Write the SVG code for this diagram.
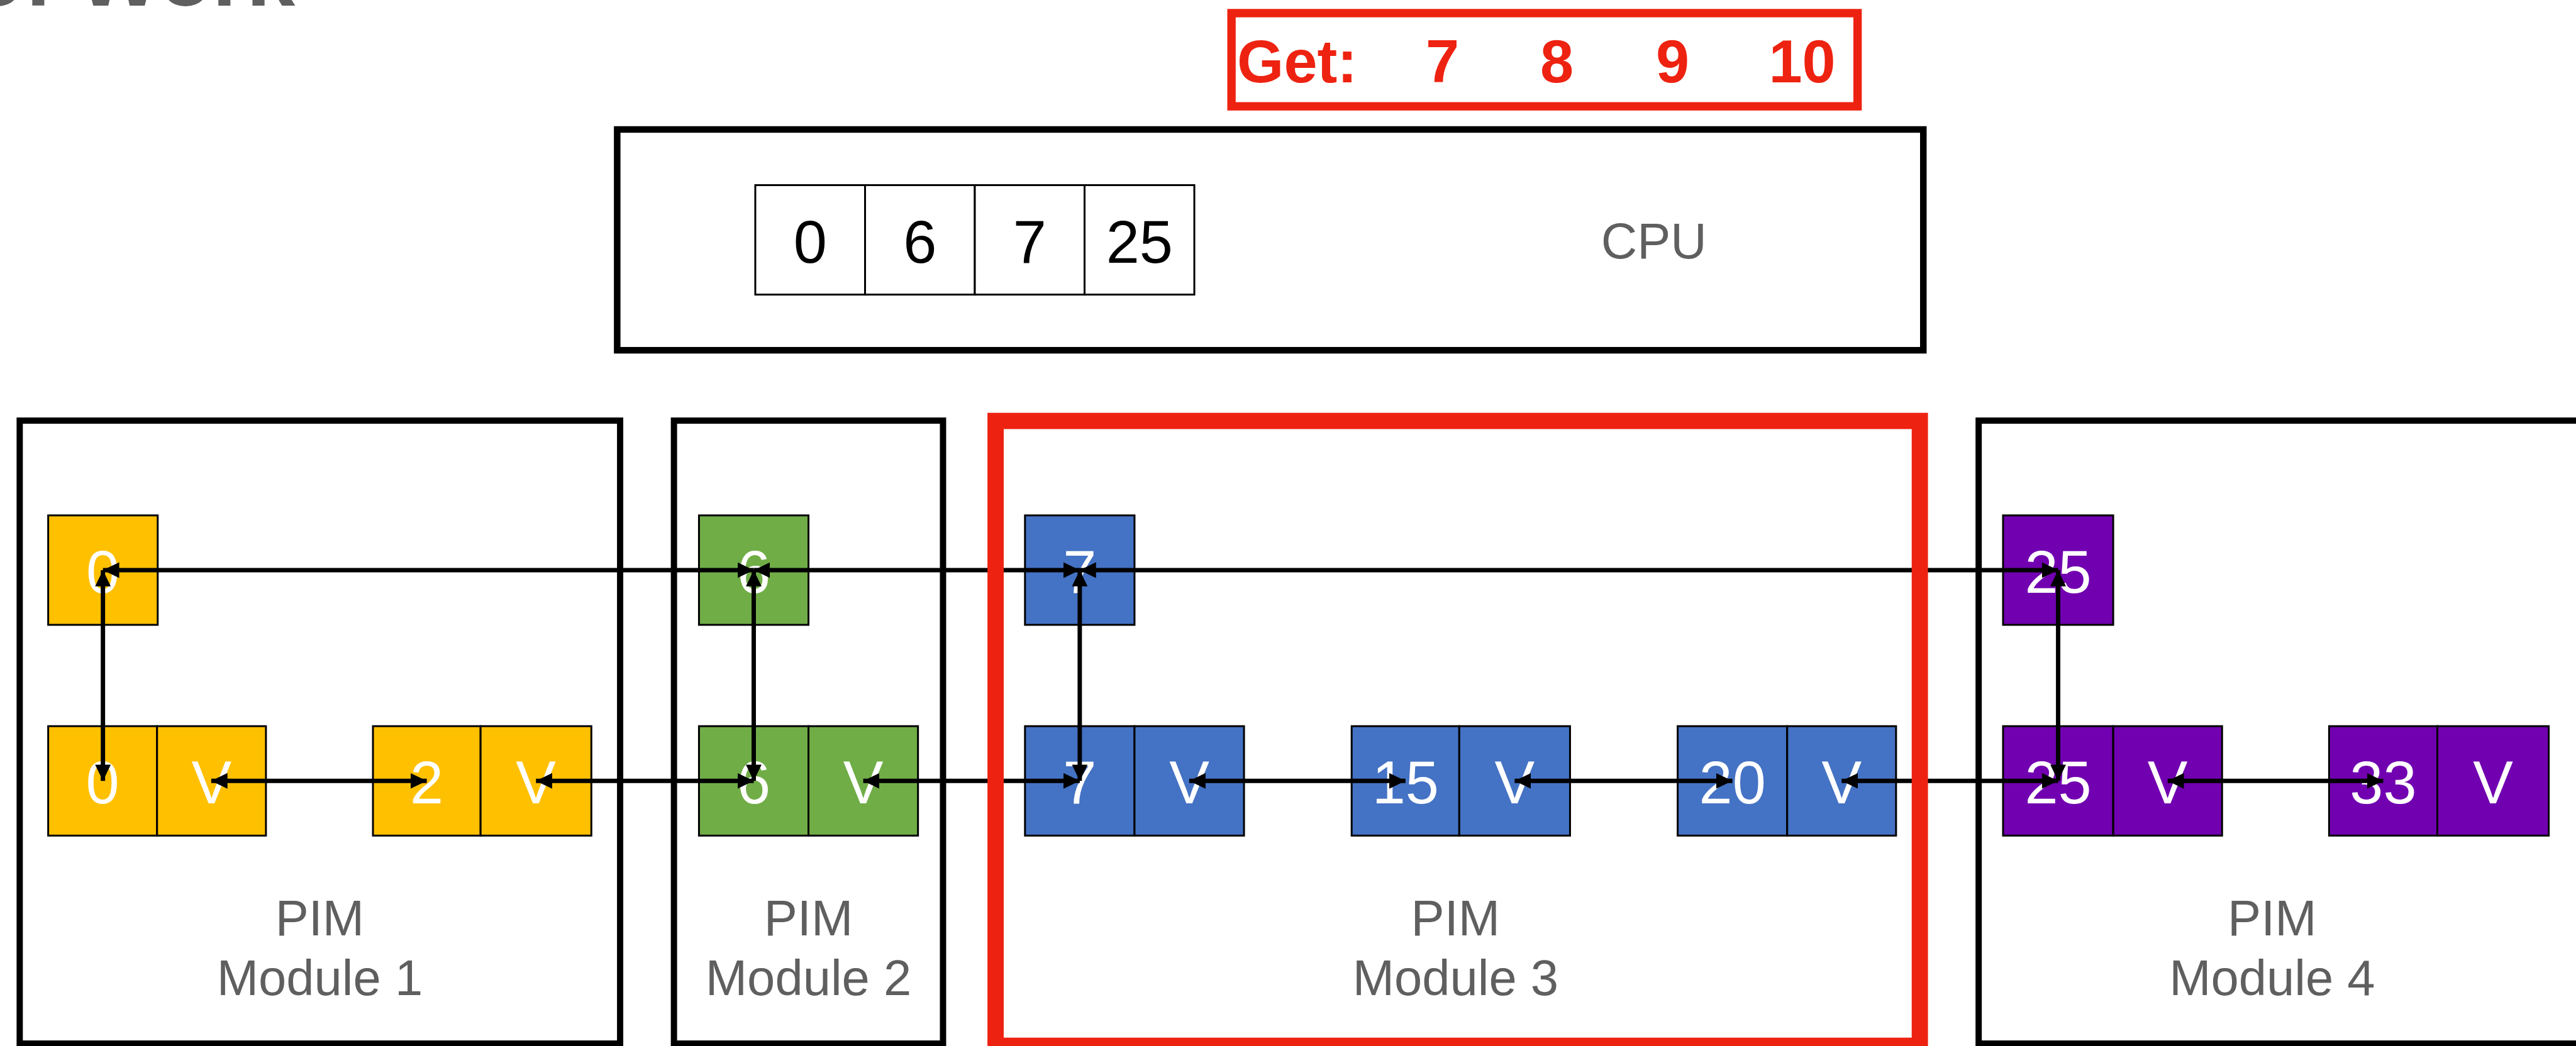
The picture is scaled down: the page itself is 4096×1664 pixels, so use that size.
<svg xmlns="http://www.w3.org/2000/svg" width="4096" height="1664" viewBox="0 0 4096 1664">
<style>
.mod{fill:none;stroke:#000;stroke-width:10}
.red{fill:none;stroke:#EE2211}
.lbl{font-family:"Liberation Sans",Arial,sans-serif;font-size:80px;fill:#5F5F5F;text-anchor:middle}
.cell{fill:#fff;stroke:#000;stroke-width:3}
.num{font-family:"Liberation Sans",Arial,sans-serif;font-size:96px;fill:#000;text-anchor:middle}
.nt{font-family:"Liberation Sans",Arial,sans-serif;font-size:96px;fill:#fff;text-anchor:middle}
.y{fill:#FFC000;stroke:#000;stroke-width:3}
.g{fill:#70AD47;stroke:#000;stroke-width:3}
.b{fill:#4472C4;stroke:#000;stroke-width:3}
.p{fill:#7100B0;stroke:#000;stroke-width:3}
.ln{fill:none;stroke:#000;stroke-width:7;marker-start:url(#ah);marker-end:url(#ah)}
</style>
<defs>
<marker id="ah" markerUnits="userSpaceOnUse" markerWidth="28" markerHeight="28" viewBox="0 0 28 28" refX="26" refY="14" orient="auto-start-reverse">
<path d="M0,1.5 L26,14 L0,26.5 Z" fill="#000"/>
</marker>
</defs>
<rect width="4096" height="1664" fill="#fff"/>
<g transform="scale(0.995)">
<text id="title" x="-47" y="9" font-family="'Liberation Sans',Arial,sans-serif" font-weight="bold" font-size="140" fill="#5F5F5F">of Work</text>

<g id="get">
<rect class="red" x="1968" y="21" width="1000.5" height="149" stroke-width="13.4"/>
<text font-family="'Liberation Sans',Arial,sans-serif" font-weight="bold" font-size="96" fill="#EE2211" y="132"><tspan x="1977">Get:</tspan><tspan x="2305" text-anchor="middle">7</tspan><tspan x="2488" text-anchor="middle">8</tspan><tspan x="2673" text-anchor="middle">9</tspan><tspan x="2880" text-anchor="middle">10</tspan></text>
</g>

<g id="cpu">
<rect x="986.3" y="207" width="2087.3" height="353" fill="none" stroke="#000" stroke-width="10.5"/>
<text class="lbl" x="2643" y="413">CPU</text>
</g>

<g id="cpu-array">
<rect class="cell" x="1207" y="296" width="175.4" height="175"/>
<rect class="cell" x="1382.4" y="296" width="175.4" height="175"/>
<rect class="cell" x="1557.8" y="296" width="175.4" height="175"/>
<rect class="cell" x="1733.2" y="296" width="175.4" height="175"/>
<text class="num" x="1294.7" y="420">0</text>
<text class="num" x="1470.1" y="420">6</text>
<text class="num" x="1645.5" y="420">7</text>
<text class="num" x="1820.9" y="420">25</text>
</g>

<g id="module1">
<rect class="mod" x="31.5" y="672.5" width="959.5" height="996"/>
<text class="lbl" x="511" y="1495.5">PIM</text>
<text class="lbl" x="511" y="1591">Module 1</text>
</g>
<g id="module2">
<rect class="mod" x="1077" y="672.5" width="430" height="996"/>
<text class="lbl" x="1292" y="1495.5">PIM</text>
<text class="lbl" x="1292" y="1591">Module 2</text>
</g>
<g id="module3-label">
<text class="lbl" x="2326" y="1495.5">PIM</text>
<text class="lbl" x="2326" y="1591">Module 3</text>
</g>
<g id="module4">
<rect class="mod" x="3162" y="672.5" width="980" height="996"/>
<text class="lbl" x="3631" y="1495.5">PIM</text>
<text class="lbl" x="3631" y="1591">Module 4</text>
</g>

<g id="n0-top"><rect class="y" x="77" y="824" width="175" height="175"/><text class="nt" x="164.5" y="947.5">0</text></g>
<g id="n0"><rect class="y" x="77" y="1161" width="174" height="175"/><rect class="y" x="251" y="1161" width="174" height="175"/><text class="nt" x="164" y="1284.5">0</text><text class="nt" x="338" y="1284.5">V</text></g>
<g id="n2"><rect class="y" x="596" y="1161" width="172" height="175"/><rect class="y" x="768" y="1161" width="177" height="175"/><text class="nt" x="682" y="1284.5">2</text><text class="nt" x="856.5" y="1284.5">V</text></g>

<g id="n6-top"><rect class="g" x="1117" y="824" width="175" height="175"/><text class="nt" x="1204.5" y="947.5">6</text></g>
<g id="n6"><rect class="g" x="1117" y="1161" width="175" height="175"/><rect class="g" x="1292" y="1161" width="175" height="175"/><text class="nt" x="1204.5" y="1284.5">6</text><text class="nt" x="1379.5" y="1284.5">V</text></g>

<g id="n7-top"><rect class="b" x="1638" y="824" width="175" height="175"/><text class="nt" x="1725.5" y="947.5">7</text></g>
<g id="n7"><rect class="b" x="1638" y="1161" width="175" height="175"/><rect class="b" x="1813" y="1161" width="175" height="175"/><text class="nt" x="1725.5" y="1284.5">7</text><text class="nt" x="1900.5" y="1284.5">V</text></g>
<g id="n15"><rect class="b" x="2160" y="1161" width="172" height="175"/><rect class="b" x="2332" y="1161" width="177" height="175"/><text class="nt" x="2246" y="1284.5">15</text><text class="nt" x="2420.5" y="1284.5">V</text></g>
<g id="n20"><rect class="b" x="2681" y="1161" width="175" height="175"/><rect class="b" x="2856" y="1161" width="174" height="175"/><text class="nt" x="2768.5" y="1284.5">20</text><text class="nt" x="2943" y="1284.5">V</text></g>

<g id="n25-top"><rect class="p" x="3201" y="824" width="176" height="175"/><text class="nt" x="3289" y="947.5">25</text></g>
<g id="n25"><rect class="p" x="3201" y="1161" width="176" height="175"/><rect class="p" x="3377" y="1161" width="174" height="175"/><text class="nt" x="3289" y="1284.5">25</text><text class="nt" x="3464" y="1284.5">V</text></g>
<g id="n33"><rect class="p" x="3722" y="1161" width="173" height="175"/><rect class="p" x="3895" y="1161" width="178" height="175"/><text class="nt" x="3808.5" y="1284.5">33</text><text class="nt" x="3984" y="1284.5">V</text></g>

<g id="connectors">
<line class="ln" x1="164.5" y1="911.5" x2="1204.5" y2="911.5"/>
<line class="ln" x1="1204.5" y1="911.5" x2="1725.5" y2="911.5"/>
<line class="ln" x1="1725.5" y1="911.5" x2="3289" y2="911.5"/>
<line class="ln" x1="337.5" y1="1248.5" x2="682" y2="1248.5"/>
<line class="ln" x1="856.5" y1="1248.5" x2="1204.5" y2="1248.5"/>
<line class="ln" x1="1379.5" y1="1248.5" x2="1725.5" y2="1248.5"/>
<line class="ln" x1="1900.5" y1="1248.5" x2="2246" y2="1248.5"/>
<line class="ln" x1="2420.5" y1="1248.5" x2="2768.5" y2="1248.5"/>
<line class="ln" x1="2943" y1="1248.5" x2="3289" y2="1248.5"/>
<line class="ln" x1="3464" y1="1248.5" x2="3808.5" y2="1248.5"/>
<line class="ln" x1="164.5" y1="911.5" x2="164.5" y2="1248.5"/>
<line class="ln" x1="1204.5" y1="911.5" x2="1204.5" y2="1248.5"/>
<line class="ln" x1="1725.5" y1="911.5" x2="1725.5" y2="1248.5"/>
<line class="ln" x1="3289" y1="911.5" x2="3289" y2="1248.5"/>
</g>

<g id="module3">
<rect class="red" x="1591" y="673" width="1477" height="999" stroke-width="26"/>
</g>
</g>
</svg>
